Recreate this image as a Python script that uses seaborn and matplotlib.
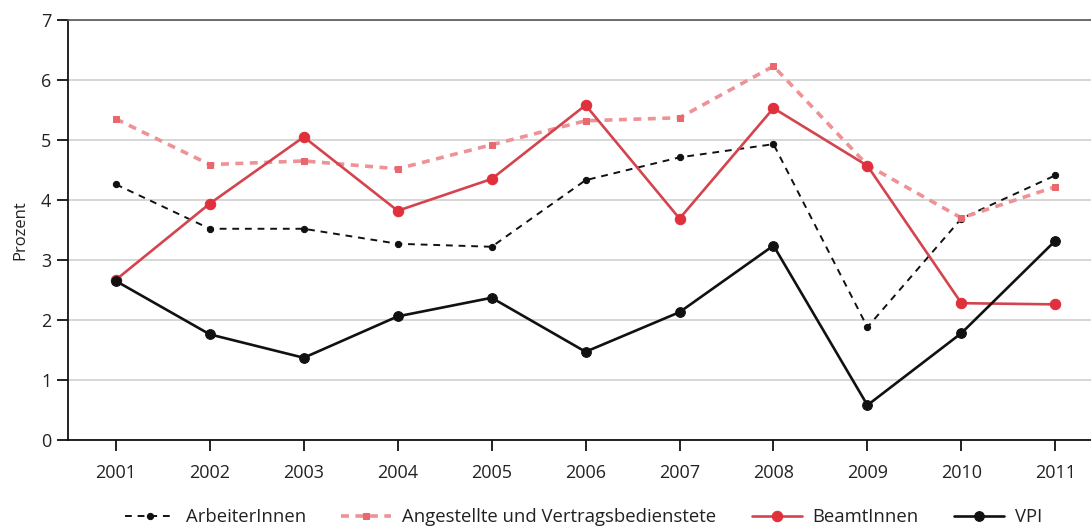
import matplotlib
matplotlib.use("Agg")
import matplotlib.pyplot as plt
import seaborn as sns
import pandas as pd

# Jahreswerte in Prozent
jahre = [2001, 2002, 2003, 2004, 2005, 2006, 2007, 2008, 2009, 2010, 2011]
arbeiter = [4.26, 3.52, 3.52, 3.27, 3.22, 4.33, 4.71, 4.93, 1.88, 3.69, 4.41]
angestellte = [5.35, 4.59, 4.65, 4.52, 4.92, 5.32, 5.37, 6.23, 4.58, 3.70, 4.22]
beamte = [2.67, 3.94, 5.05, 3.82, 4.35, 5.58, 3.69, 5.53, 4.57, 2.28, 2.26]
vpi = [2.65, 1.76, 1.37, 2.06, 2.37, 1.47, 2.13, 3.24, 0.58, 1.78, 3.32]

namen = ["ArbeiterInnen", "Angestellte und Vertragsbedienstete", "BeamtInnen", "VPI"]
reihen = [arbeiter, angestellte, beamte, vpi]

df = pd.concat(
    [pd.DataFrame({"Jahr": jahre, "Wert": w, "Gruppe": n}) for n, w in zip(namen, reihen)],
    ignore_index=True,
)

sns.set_theme(style="white")
plt.rcParams["font.family"] = ["Open Sans", "DejaVu Sans"]

fig = plt.figure(figsize=(10.91, 5.28), dpi=100)
ax = fig.add_axes([0.0623, 0.1667, 0.9377, 0.7955])

stile = {
    "ArbeiterInnen": dict(color="#111111", lw=1.4, ls=(0, (3.5, 3)), marker="o", ms=4.5,
                          mfc="#111111", mec="#111111"),
    "Angestellte und Vertragsbedienstete": dict(color="#ee9296", lw=2.6, ls=(0, (2.2, 1.8)),
                                                marker="s", ms=5, mfc="#e9686e", mec="#e9686e"),
    "BeamtInnen": dict(color="#d4444e", lw=1.9, ls="-", marker="o", ms=7.5,
                       mfc="#e0303c", mec="#e0303c"),
    "VPI": dict(color="#111111", lw=1.9, ls="-", marker="o", ms=7,
                mfc="#111111", mec="#111111"),
}

handles = []
for name in namen:
    s = stile[name]
    sub = df[df["Gruppe"] == name]
    sns.lineplot(data=sub, x="Jahr", y="Wert", ax=ax, color=s["color"], linewidth=s["lw"],
                 linestyle=s["ls"], marker=s["marker"], markersize=s["ms"],
                 markerfacecolor=s["mfc"], markeredgecolor=s["mec"], legend=False,
                 label=name)
    handles.append(ax.lines[-1])

ax.set_xlim(2000.49, 2011.38)
ax.set_ylim(0, 7)
ax.set_xticks(jahre)
ax.set_xticklabels([str(j) for j in jahre])
ax.set_yticks(range(0, 8))
ax.yaxis.grid(True, color="#cfcfcf", linewidth=1.2)
ax.xaxis.grid(False)
ax.set_axisbelow(True)

ax.spines["right"].set_visible(False)
ax.spines["top"].set_color("#555555")
ax.spines["top"].set_linewidth(1.2)
for side in ["left", "bottom"]:
    ax.spines[side].set_color("#111111")
    ax.spines[side].set_linewidth(1.3)

ax.tick_params(axis="both", which="major", direction="out", length=8, width=1.3,
               color="#111111", labelsize=13, labelcolor="#222222", left=True, bottom=True)
ax.tick_params(axis="x", pad=9)
ax.tick_params(axis="y", pad=4)
ax.set_xlabel("")
ax.set_ylabel("Prozent", fontsize=12, color="#222222", labelpad=9)

fig.legend(handles=handles, labels=namen, loc="center", bbox_to_anchor=(0.535, 0.02),
           ncol=4, frameon=False, fontsize=13.3, handlelength=2.7, handletextpad=0.6,
           columnspacing=1.9, labelcolor="#222222")

fig.savefig("out.png", dpi=100)
